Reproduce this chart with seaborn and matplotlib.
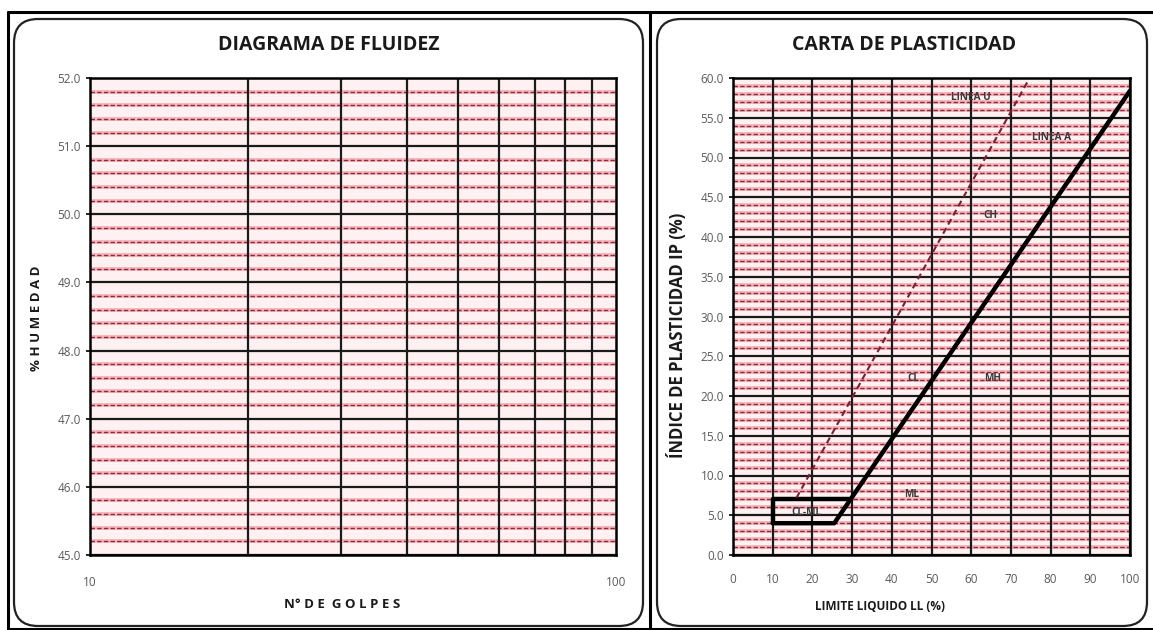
import matplotlib
matplotlib.use("Agg")
import matplotlib.pyplot as plt
from matplotlib.patches import FancyBboxPatch
from matplotlib.lines import Line2D
from matplotlib.transforms import IdentityTransform
import numpy as np
import seaborn as sns

# ---- data ----
golpes_ticks = [10, 100]
golpes_grid = [20, 30, 40, 50, 60, 70, 80, 90]
humedad_range = [45.0, 52.0]

ll_ticks = [0, 10, 20, 30, 40, 50, 60, 70, 80, 90, 100]
ip_range = [0.0, 60.0]

# Linea A (with the CL-ML zone edge)
linea_a_ll = [10, 25.5, 100]
linea_a_ip = [4.0, 4.0, 58.4]
# CL-ML zone: upper edge and left edge
clml_top_ll = [10, 10, 29.6]
clml_top_ip = [4.0, 7.0, 7.0]
# Linea U
linea_u_ll = [16.0, 74.7]
linea_u_ip = [7.2, 60.0]

zone_labels = ["LINEA U", "LINEA A", "CH", "CL", "MH", "ML", "CL-ML"]
zone_x = [59.8, 80.2, 64.9, 45.5, 65.4, 45.0, 18.5]
zone_y = [57.6, 52.5, 42.7, 22.2, 22.2, 7.6, 5.4]

sns.set_theme(style="white")
plt.rcParams["font.family"] = ["Open Sans", "DejaVu Sans"]

W, H = 1153, 630
fig = plt.figure(figsize=(W / 100, H / 100), dpi=100)
pix = IdentityTransform()


def fx(px):
    return px / W


def fy(py):
    return 1 - py / H


# outer frame and divider (pixel coordinates, origin at bottom-left)
frame_kw = dict(color="black", lw=2.2, transform=pix, zorder=-1)
fig.add_artist(Line2D([8, 1153], [H - 12, H - 12], **frame_kw))
fig.add_artist(Line2D([8, 8], [H - 12, 0], **frame_kw))
fig.add_artist(Line2D([650, 650], [H - 12, 0], **frame_kw))
fig.add_artist(Line2D([8, 1153], [1, 1], **frame_kw))

# rounded panels
for x0, x1 in [(14, 643), (657, 1147)]:
    box = FancyBboxPatch((x0, H - 626), x1 - x0, 626 - 19,
                         boxstyle="round,pad=0,rounding_size=24",
                         transform=pix, fc="white", ec="#222222",
                         lw=1.6, zorder=-1)
    fig.add_artist(box)

ax_bottom = fy(555)
ax_height = (555 - 78) / H
ax1 = fig.add_axes([fx(90), ax_bottom, fx(616 - 90), ax_height])
ax2 = fig.add_axes([fx(733), ax_bottom, fx(1130 - 733), ax_height])

tick_color = "#5a5a5a"
pink_face = "#fff1f2"


def minor_rows(ax, values):
    for v in values:
        ax.axhline(v, color="#f4b5bc", lw=2.8, zorder=1)
        ax.axhline(v, color="#8e2a3b", lw=1.0, ls=(0, (3.2, 1.6)), zorder=1.5)


def style_spines(ax):
    for s in ax.spines.values():
        s.set_visible(True)
        s.set_color("black")
        s.set_linewidth(1.8)
        s.set_zorder(5)


# ---- DIAGRAMA DE FLUIDEZ ----
ax1.set_facecolor(pink_face)
ax1.set_xscale("log")
ax1.set_xlim(golpes_ticks[0], golpes_ticks[-1])
ax1.set_ylim(*humedad_range)
hum_major = np.arange(humedad_range[0], humedad_range[1] + 0.01, 1.0)
hum_minor = [v for v in np.arange(humedad_range[0], humedad_range[1], 0.2)
             if abs(v - round(v)) > 1e-6]
minor_rows(ax1, hum_minor)
for v in hum_major:
    ax1.axhline(v, color="#1a1a1a", lw=1.6, zorder=2)
for g in golpes_grid:
    ax1.axvline(g, color="#1a1a1a", lw=1.6, zorder=2)
ax1.set_xticks(golpes_ticks)
ax1.set_xticklabels([str(t) for t in golpes_ticks])
ax1.xaxis.set_minor_locator(matplotlib.ticker.NullLocator())
ax1.set_yticks(hum_major)
ax1.set_yticklabels([f"{v:.1f}" for v in hum_major])
ax1.tick_params(axis="both", labelcolor=tick_color, labelsize=8.5, length=3,
                width=1.2, direction="out", left=True, bottom=False,
                color="black")
ax1.tick_params(axis="x", pad=12)
style_spines(ax1)

fig.text(fx(329), fy(45), "DIAGRAMA DE FLUIDEZ", ha="center", va="center",
         fontsize=14, fontweight="bold", color="#1a1a1a")
fig.text(fx(342), fy(604), "N° D E  G O L P E S", ha="center", va="center",
         fontsize=9.5, fontweight="bold", color="#1a1a1a")
fig.text(fx(37), fy(318), "% H U M E D A D", ha="center", va="center",
         rotation=90, fontsize=9.5, fontweight="bold", color="#1a1a1a")

# ---- CARTA DE PLASTICIDAD ----
ax2.set_facecolor(pink_face)
ax2.set_xlim(ll_ticks[0], ll_ticks[-1])
ax2.set_ylim(*ip_range)
ip_major = np.arange(ip_range[0], ip_range[1] + 0.01, 5.0)
ip_minor = [v for v in np.arange(ip_range[0], ip_range[1], 1.0) if v % 5 != 0]
minor_rows(ax2, ip_minor)
for v in ip_major:
    ax2.axhline(v, color="#1a1a1a", lw=1.6, zorder=2)
for v in ll_ticks:
    ax2.axvline(v, color="#1a1a1a", lw=1.6, zorder=2)

sns.lineplot(x=linea_a_ll, y=linea_a_ip, sort=False, ax=ax2, color="black",
             lw=3.2, zorder=4, estimator=None)
sns.lineplot(x=clml_top_ll, y=clml_top_ip, sort=False, ax=ax2, color="black",
             lw=3.2, zorder=4, estimator=None)
sns.lineplot(x=linea_u_ll, y=linea_u_ip, sort=False, ax=ax2, color="#7a2030",
             lw=1.5, zorder=4, estimator=None, linestyle=(0, (3, 2)))

for lab, x, y in zip(zone_labels, zone_x, zone_y):
    ax2.text(x, y, lab, ha="center", va="center", fontsize=7.2,
             fontweight="bold", color="#3a3a3a", zorder=6)

ax2.set_xticks(ll_ticks)
ax2.set_xticklabels([str(t) for t in ll_ticks])
ax2.set_yticks(ip_major)
ax2.set_yticklabels([f"{v:.1f}" for v in ip_major])
ax2.tick_params(axis="both", labelcolor=tick_color, labelsize=8.5, length=3,
                width=1.2, direction="out", left=True, bottom=False,
                color="black")
ax2.tick_params(axis="x", pad=10)
ax2.set_xlabel("")
ax2.set_ylabel("")
style_spines(ax2)

fig.text(fx(904), fy(45), "CARTA DE PLASTICIDAD", ha="center", va="center",
         fontsize=14, fontweight="bold", color="#1a1a1a")
fig.text(fx(880), fy(606), "LIMITE LIQUIDO LL (%)", ha="center", va="center",
         fontsize=8.5, fontweight="bold", color="#1a1a1a")
fig.text(fx(677), fy(335), "ÍNDICE DE PLASTICIDAD IP (%)", ha="center",
         va="center", rotation=90, fontsize=12, fontweight="bold",
         color="#1a1a1a")

fig.savefig("out.png", dpi=100)
